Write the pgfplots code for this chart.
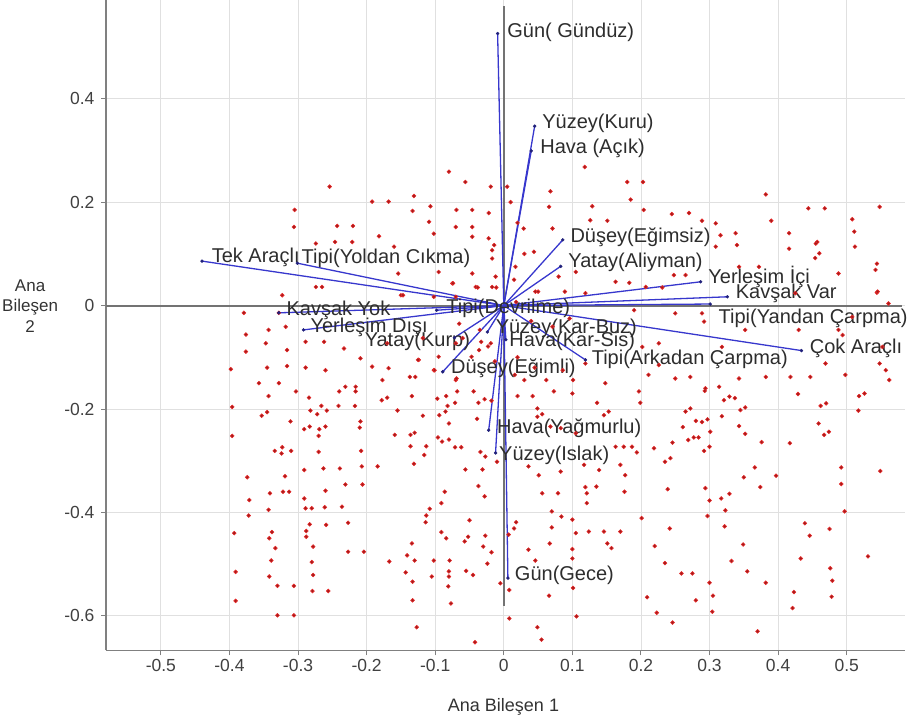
\documentclass[border=0pt]{standalone}
\usepackage{pgfplots}
\pgfplotsset{compat=1.18}
\usepackage{fontspec}
\setmainfont{Liberation Sans}
\definecolor{vec}{RGB}{55,55,205}
\definecolor{dotred}{RGB}{230,40,40}
\definecolor{labtxt}{RGB}{45,45,45}
\begin{document}
\begin{tikzpicture}
\path[use as bounding box] (0,0) rectangle (912pt,722pt);
\begin{axis}[
  at={(106pt,71.5pt)}, anchor=south west,
  scale only axis, width=799pt, height=650pt,
  xmin=-0.58, xmax=0.585, ymin=-0.667, ymax=0.59,
  axis x line*=bottom, axis y line*=left,
  axis line style={black!50, line width=1.2pt},
  xtick={-0.5,-0.4,-0.3,-0.2,-0.1,0,0.1,0.2,0.3,0.4,0.5},
  xticklabels={-0.5,-0.4,-0.3,-0.2,-0.1,0,0.1,0.2,0.3,0.4,0.5},
  ytick={-0.6,-0.4,-0.2,0,0.2,0.4},
  yticklabels={-0.6,-0.4,-0.2,0,0.2,0.4},
  tick align=outside, major tick length=5pt,
  tick style={black!50, line width=1pt},
  tick label style={font=\fontsize{17.5}{18}\selectfont, text=black!75},
  yticklabel style={xshift=-3pt},
  grid=major, grid style={black!12, line width=0.8pt},
  xlabel={Ana Bileşen 1},
  xlabel style={font=\fontsize{18}{18}\selectfont, text=black!80, at={(axis description cs:0.4975,-0.0866)}, anchor=center},
  ylabel={Ana\\Bileşen\\2},
  ylabel style={font=\fontsize{17}{20.5}\selectfont, text=black!80, rotate=-90, align=center, at={(axis description cs:-0.095,0.530)}, anchor=center},
  clip=false,
]
% observation points
\addplot[only marks, mark=*, mark size=1.9pt, mark options={draw=dotred, line width=0.6pt, fill=dotred!70!black}] coordinates {
(-0.343,-0.175) (-0.303,-0.166) (-0.284,-0.178) (-0.240,-0.166) (-0.216,-0.166) (-0.178,-0.183) (-0.170,-0.178) (-0.134,-0.175) (-0.097,-0.180) (-0.084,-0.175) (-0.068,-0.166) (-0.044,-0.166) (-0.028,-0.181) (-0.018,-0.184) (-0.396,-0.196) (-0.353,-0.213) (-0.345,-0.206) (-0.282,-0.203) (-0.272,-0.210) (-0.266,-0.194) (-0.258,-0.203) (-0.241,-0.194) (-0.217,-0.194) (-0.155,-0.203) (-0.118,-0.213) (-0.094,-0.212) (-0.085,-0.205) (-0.082,-0.194) (-0.071,-0.188) (-0.037,-0.188) (-0.080,-0.228) (-0.039,-0.219) (-0.396,-0.252) (-0.311,-0.224) (-0.291,-0.239) (-0.283,-0.234) (-0.269,-0.239) (-0.260,-0.234) (-0.270,-0.252) (-0.209,-0.224) (-0.210,-0.236) (-0.159,-0.250) (-0.136,-0.250) (-0.130,-0.246) (-0.136,-0.272) (-0.113,-0.272) (-0.096,-0.255) (-0.090,-0.263) (-0.080,-0.259) (-0.071,-0.274) (-0.062,-0.274) (-0.334,-0.281) (-0.323,-0.274) (-0.324,-0.286) (-0.310,-0.281) (-0.270,-0.283) (-0.208,-0.281) (-0.116,-0.289) (-0.034,-0.283) (-0.027,-0.292) (-0.010,-0.302) (-0.291,-0.318) (-0.263,-0.315) (-0.239,-0.315) (-0.207,-0.311) (-0.184,-0.311) (-0.131,-0.306) (-0.056,-0.317) (-0.031,-0.317) (-0.374,-0.332) (-0.319,-0.330) (-0.231,-0.346) (-0.206,-0.346) (-0.037,-0.349) (-0.371,-0.376) (-0.341,-0.363) (-0.322,-0.360) (-0.313,-0.360) (-0.260,-0.358) (-0.291,-0.373) (-0.086,-0.360) (-0.091,-0.382) (-0.028,-0.369) (-0.289,-0.392) (-0.280,-0.392) (-0.261,-0.390) (-0.236,-0.389) (-0.108,-0.393) (-0.113,-0.406) (-0.372,-0.406) (-0.343,-0.395) (-0.283,-0.423) (-0.259,-0.424) (-0.227,-0.420) (-0.114,-0.419) (-0.050,-0.415) (-0.393,-0.440) (-0.338,-0.438) (-0.342,-0.450) (-0.288,-0.436) (-0.288,-0.447) (-0.091,-0.438) (-0.084,-0.450) (-0.052,-0.447) (-0.057,-0.456) (-0.027,-0.445) (-0.333,-0.469) (-0.278,-0.466) (-0.227,-0.476) (-0.204,-0.476) (-0.134,-0.460) (-0.141,-0.483) (-0.030,-0.466) (-0.018,-0.477) (-0.339,-0.493) (-0.280,-0.496) (-0.167,-0.495) (-0.130,-0.493) (-0.102,-0.493) (-0.079,-0.493) (-0.024,-0.499) (-0.391,-0.515) (-0.342,-0.524) (-0.278,-0.521) (-0.143,-0.516) (-0.133,-0.534) (-0.105,-0.524) (-0.080,-0.514) (-0.080,-0.524) (-0.055,-0.513) (-0.045,-0.521) (-0.330,-0.542) (-0.306,-0.542) (-0.279,-0.552) (-0.256,-0.552) (-0.081,-0.543) (-0.005,-0.537) (-0.391,-0.571) (-0.133,-0.570) (-0.077,-0.576) (-0.330,-0.599) (-0.306,-0.599) (-0.127,-0.622) (-0.042,-0.651)
(0.020,-0.175) (0.042,-0.175) (0.073,-0.166) (0.100,-0.170) (0.136,-0.188) (0.146,-0.212) (0.153,-0.205) (0.197,-0.166) (0.199,-0.188) (0.265,-0.205) (0.272,-0.199) (0.293,-0.165) (0.321,-0.183) (0.329,-0.176) (0.337,-0.179) (0.345,-0.202) (0.352,-0.197) (0.429,-0.171) (0.462,-0.194) (0.470,-0.189) (0.518,-0.175) (0.526,-0.170) (0.517,-0.203) (0.049,-0.199) (0.049,-0.215) (0.056,-0.210) (0.459,-0.228) (0.467,-0.250) (0.474,-0.244) (0.343,-0.233) (0.352,-0.248) (0.318,-0.214) (0.280,-0.223) (0.289,-0.225) (0.297,-0.220) (0.261,-0.235) (0.269,-0.260) (0.277,-0.255) (0.284,-0.255) (0.301,-0.244) (0.246,-0.265) (0.376,-0.264) (0.417,-0.266) (0.083,-0.237) (0.068,-0.234) (0.105,-0.247) (0.036,-0.311) (0.051,-0.328) (0.083,-0.321) (0.117,-0.308) (0.139,-0.318) (0.163,-0.273) (0.175,-0.273) (0.187,-0.273) (0.194,-0.284) (0.170,-0.308) (0.219,-0.276) (0.235,-0.302) (0.243,-0.295) (0.292,-0.281) (0.300,-0.273) (0.366,-0.313) (0.397,-0.329) (0.350,-0.332) (0.374,-0.351) (0.492,-0.313) (0.492,-0.345) (0.549,-0.320) (0.056,-0.363) (0.079,-0.363) (0.119,-0.351) (0.121,-0.363) (0.121,-0.382) (0.135,-0.350) (0.177,-0.328) (0.176,-0.360) (0.239,-0.355) (0.294,-0.353) (0.300,-0.377) (0.317,-0.373) (0.329,-0.364) (0.323,-0.396) (0.297,-0.407) (0.497,-0.398) (0.007,-0.443) (0.015,-0.431) (0.018,-0.419) (0.070,-0.398) (0.084,-0.408) (0.100,-0.414) (0.070,-0.429) (0.105,-0.440) (0.124,-0.437) (0.146,-0.437) (0.170,-0.437) (0.201,-0.411) (0.242,-0.431) (0.322,-0.427) (0.439,-0.421) (0.446,-0.445) (0.475,-0.432) (0.036,-0.472) (0.067,-0.460) (0.100,-0.471) (0.100,-0.489) (0.151,-0.460) (0.157,-0.469) (0.220,-0.465) (0.235,-0.498) (0.349,-0.462) (0.332,-0.494) (0.433,-0.489) (0.531,-0.485) (0.046,-0.493) (0.259,-0.518) (0.275,-0.518) (0.355,-0.514) (0.382,-0.536) (0.300,-0.536) (0.476,-0.508) (0.479,-0.532) (0.008,-0.550) (0.066,-0.561) (0.101,-0.546) (0.209,-0.564) (0.280,-0.570) (0.305,-0.561) (0.478,-0.563) (0.423,-0.554) (0.421,-0.585) (0.008,-0.605) (0.106,-0.601) (0.223,-0.594) (0.304,-0.592) (0.049,-0.622) (0.055,-0.646) (0.246,-0.613) (0.370,-0.630)
(-0.080,0.259) (-0.056,0.239) (-0.019,0.230) (-0.254,0.230) (-0.192,0.201) (-0.168,0.201) (-0.131,0.212) (-0.107,0.192) (-0.305,0.185) (-0.133,0.183) (-0.069,0.185) (-0.046,0.185) (-0.022,0.179) (-0.306,0.152) (-0.243,0.154) (-0.220,0.154) (-0.182,0.134) (-0.109,0.162) (-0.070,0.152) (-0.046,0.152) (-0.102,0.139) (-0.046,0.133) (-0.022,0.130) (-0.014,0.117) (-0.274,0.120) (-0.246,0.123) (-0.221,0.123) (-0.160,0.114) (-0.017,0.107) (-0.017,0.091) (-0.154,0.062) (-0.095,0.065) (-0.075,0.043) (-0.046,0.062) (-0.012,0.056) (-0.274,0.036) (-0.265,0.036) (-0.323,0.020) (-0.150,0.020) (-0.102,0.017) (-0.041,0.036) (-0.017,0.036) (-0.070,0.017) (-0.379,-0.014) (-0.328,-0.014) (-0.343,-0.047) (-0.318,-0.041) (-0.289,-0.070) (-0.376,-0.056) (-0.376,-0.089) (-0.347,-0.073) (-0.316,-0.086) (-0.262,-0.070) (-0.233,-0.083) (-0.209,-0.102) (-0.170,-0.073) (-0.124,-0.105) (-0.095,-0.099) (-0.070,-0.073) (-0.398,-0.123) (-0.345,-0.120) (-0.316,-0.117) (-0.289,-0.120) (-0.260,-0.125) (-0.192,-0.118) (-0.168,-0.121) (-0.129,-0.138) (-0.102,-0.125) (-0.036,-0.086) (-0.019,-0.073) (-0.357,-0.150) (-0.328,-0.150) (-0.231,-0.157) (-0.216,-0.157) (-0.177,-0.144) (-0.070,-0.144)
(0.118,0.268) (0.180,0.239) (0.203,0.239) (0.068,0.221) (0.185,0.205) (0.382,0.215) (0.444,0.188) (0.468,0.188) (0.548,0.191) (0.066,0.191) (0.129,0.192) (0.151,0.164) (0.126,0.165) (0.245,0.177) (0.270,0.179) (0.289,0.164) (0.309,0.159) (0.204,0.185) (0.390,0.164) (0.508,0.167) (0.029,0.149) (0.071,0.149) (0.316,0.136) (0.338,0.140) (0.340,0.117) (0.416,0.140) (0.457,0.123) (0.512,0.114) (0.416,0.110) (0.309,0.114) (0.017,0.075) (0.044,0.104) (0.080,0.056) (0.105,0.065) (0.454,0.092) (0.544,0.081) (0.542,0.069) (0.343,0.075) (0.372,0.075) (0.163,0.046) (0.183,0.044) (0.207,0.036) (0.231,0.035) (0.248,0.059) (0.265,0.059) (0.488,0.062) (0.046,0.027) (0.119,0.024) (0.544,0.025) (0.425,0.024) (0.190,-0.009) (0.250,-0.015) (0.289,-0.015) (0.292,-0.031) (0.561,0.004) (0.508,-0.022) (0.352,-0.047) (0.430,-0.047) (0.488,-0.047) (0.071,-0.041) (0.202,-0.080) (0.226,-0.073) (0.318,-0.080) (0.552,-0.080) (0.119,-0.112) (0.226,-0.115) (0.469,-0.112) (0.557,-0.125) (0.211,-0.134) (0.250,-0.141) (0.272,-0.138) (0.343,-0.141) (0.382,-0.138) (0.418,-0.138) (0.447,-0.138) (0.498,-0.134) (0.148,-0.150) (0.294,-0.160) (0.314,-0.157)
(0.455,0.120) (0.460,0.101) (0.511,0.143) (0.545,0.027) (0.494,-0.057) (0.562,-0.144) (0.548,-0.112)
(-0.074,0.043) (-0.038,0.035) (-0.011,0.035) (0.050,0.027) (0.089,0.027) (-0.147,0.020) (0.018,0.007) (0.096,-0.025) (-0.065,-0.035) (-0.035,-0.047) (-0.118,-0.063) (-0.060,-0.063) (-0.023,-0.079) (-0.033,-0.070) (-0.125,-0.105) (-0.101,-0.125) (-0.047,-0.099) (-0.013,-0.108) (0.016,-0.134) (0.030,-0.144) (0.062,-0.144) (-0.137,-0.138) (-0.069,-0.141) (0.086,-0.125) (0.101,-0.144)
(0.005,0.230) (0.010,0.200) (0.020,0.160) (0.030,0.100) (0.015,0.050) (0.040,-0.030) (0.020,-0.100) (0.045,-0.120)
};
% zero lines
\addplot[black!55, line width=1.9pt] coordinates {(-0.58,0) (0.58,0)};
\addplot[black!55, line width=1.9pt] coordinates {(0,-0.58) (0,0.58)};
% loading vectors
\addplot[vec, line width=1.3pt] coordinates {(0,0) (-0.009,0.526)};
\addplot[vec, line width=1.3pt] coordinates {(0,0) (0.045,0.347)};
\addplot[vec, line width=1.3pt] coordinates {(0,0) (0.040,0.299)};
\addplot[vec, line width=1.3pt] coordinates {(0,0) (0.086,0.127)};
\addplot[vec, line width=1.3pt] coordinates {(0,0) (0.083,0.076)};
\addplot[vec, line width=1.3pt] coordinates {(0,0) (0.287,0.046)};
\addplot[vec, line width=1.3pt] coordinates {(0,0) (0.326,0.017)};
\addplot[vec, line width=1.3pt] coordinates {(0,0) (0.301,0.003)};
\addplot[vec, line width=1.3pt] coordinates {(0,0) (0.434,-0.087)};
\addplot[vec, line width=1.3pt] coordinates {(0,0) (0.119,-0.105)};
\addplot[vec, line width=1.3pt] coordinates {(0,0) (-0.440,0.086)};
\addplot[vec, line width=1.3pt] coordinates {(0,0) (-0.301,0.082)};
\addplot[vec, line width=1.3pt] coordinates {(0,0) (-0.328,-0.014)};
\addplot[vec, line width=1.3pt] coordinates {(0,0) (-0.292,-0.047)};
\addplot[vec, line width=1.3pt] coordinates {(0,0) (-0.072,-0.062)};
\addplot[vec, line width=1.3pt] coordinates {(0,0) (-0.098,-0.009)};
\addplot[vec, line width=1.3pt] coordinates {(0,0) (-0.024,-0.051)};
\addplot[vec, line width=1.3pt] coordinates {(0,0) (0.003,-0.066)};
\addplot[vec, line width=1.3pt] coordinates {(0,0) (-0.089,-0.128)};
\addplot[vec, line width=1.3pt] coordinates {(0,0) (-0.022,-0.241)};
\addplot[vec, line width=1.3pt] coordinates {(0,0) (-0.012,-0.285)};
\addplot[vec, line width=1.3pt] coordinates {(0,0) (0.006,-0.527)};
% vector end points
\addplot[only marks, mark=*, mark size=1.5pt, mark options={draw=vec!60!black, fill=vec!60!black}] coordinates {
(-0.009,0.526) (0.045,0.347) (0.040,0.299) (0.086,0.127) (0.083,0.076) (0.287,0.046) (0.326,0.017) (0.301,0.003) (0.434,-0.087) (0.119,-0.105) (-0.440,0.086) (-0.301,0.082) (-0.328,-0.014) (-0.292,-0.047) (-0.072,-0.062) (-0.098,-0.009) (-0.024,-0.051) (0.003,-0.066) (-0.089,-0.128) (-0.022,-0.241) (-0.012,-0.285) (0.006,-0.527)
};
% labels
\tikzset{lab/.style={anchor=west, inner sep=0pt, text=labtxt, font=\fontsize{20}{20}\selectfont}}
\node[lab] at (axis cs:0.005,0.529) {Gün( Gündüz)};
\node[lab] at (axis cs:0.056,0.353) {Yüzey(Kuru)};
\node[lab] at (axis cs:0.053,0.304) {Hava (Açık)};
\node[lab] at (axis cs:0.097,0.133) {Düşey(Eğimsiz)};
\node[lab] at (axis cs:0.094,0.083) {Yatay(Aliyman)};
\node[lab] at (axis cs:0.298,0.056) {Yerleşim İçi};
\node[lab] at (axis cs:0.338,0.024) {Kavşak Var};
\node[lab] at (axis cs:0.313,-0.025) {Tipi(Yandan Çarpma)};
\node[lab] at (axis cs:0.446,-0.083) {Çok Araçlı};
\node[lab] at (axis cs:0.128,-0.104) {Tipi(Arkadan Çarpma)};
\node[lab] at (axis cs:-0.426,0.093) {Tek Araçlı};
\node[lab] at (axis cs:-0.295,0.091) {Tipi(Yoldan Cıkma)};
\node[lab] at (axis cs:-0.317,-0.010) {Kavşak Yok};
\node[lab] at (axis cs:-0.282,-0.042) {Yerleşim Dışı};
\node[lab] at (axis cs:-0.203,-0.069) {Yatay(Kurp)};
\node[lab] at (axis cs:-0.084,-0.005) {Tipi(Devrilme)};
\node[lab] at (axis cs:-0.012,-0.044) {Yüzey(Kar-Buz)};
\node[lab] at (axis cs:0.008,-0.070) {Hava(Kar-Sis)};
\node[lab] at (axis cs:-0.077,-0.121) {Düşey(Eğimli)};
\node[lab] at (axis cs:-0.010,-0.237) {Hava(Yağmurlu)};
\node[lab] at (axis cs:-0.007,-0.289) {Yüzey(Islak)};
\node[lab] at (axis cs:0.016,-0.521) {Gün(Gece)};
\end{axis}
\end{tikzpicture}
\end{document}
